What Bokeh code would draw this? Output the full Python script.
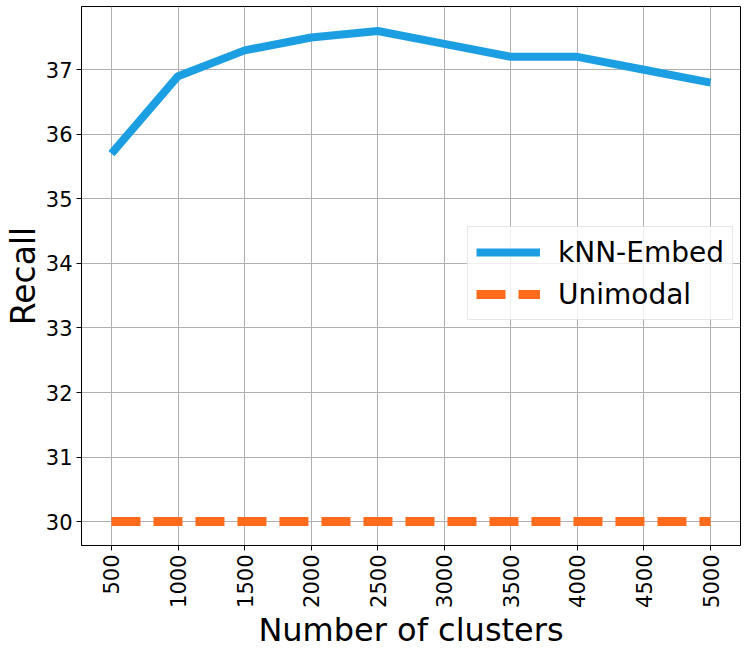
import math
from bokeh.plotting import figure
from bokeh.models import Range1d, FixedTicker, Legend, LegendItem
from bokeh.embed import file_html
from bokeh.resources import INLINE

clusters = [500, 1000, 1500, 2000, 2500, 3000, 3500, 4000, 4500, 5000]
knn_embed = [35.7, 36.9, 37.3, 37.5, 37.6, 37.4, 37.2, 37.2, 37.0, 36.8]
unimodal = [30.0] * len(clusters)
y_ticks = [30, 31, 32, 33, 34, 35, 36, 37]

FONT = "DejaVu Sans"

p = figure(width=746, height=651, output_backend="svg", toolbar_location=None,
           x_range=Range1d(275, 5225), y_range=Range1d(29.63, 37.98),
           min_border_left=60, min_border_right=6, min_border_top=6, min_border_bottom=90)

p.outline_line_color = "black"
p.outline_line_width = 1
p.background_fill_color = "white"
p.border_fill_color = "white"

for ax in (p.xaxis[0], p.yaxis[0]):
    ax.axis_line_color = "black"
    ax.major_tick_out = 5
    ax.major_tick_in = 0
    ax.minor_tick_line_color = None
    ax.major_label_text_font = FONT
    ax.major_label_text_font_size = "21px"
    ax.major_label_text_color = "black"
    ax.major_label_standoff = 4
    ax.axis_label_text_font = FONT
    ax.axis_label_text_font_style = "normal"
    ax.axis_label_text_color = "black"
    ax.axis_label_standoff = 0

p.xaxis.axis_label_text_font_size = "32px"
p.yaxis.axis_label_text_font_size = "33px"
p.xaxis.ticker = FixedTicker(ticks=clusters)
p.yaxis.ticker = FixedTicker(ticks=y_ticks)
p.xaxis.major_label_orientation = math.pi / 2
p.xaxis.axis_label = "Number of clusters"
p.yaxis.axis_label = "Recall"

p.xgrid.grid_line_color = "#b0b0b0"
p.ygrid.grid_line_color = "#b0b0b0"
p.xgrid.grid_line_width = 1
p.ygrid.grid_line_width = 1

r1 = p.line(clusters, knn_embed, line_color="#1c9fe2", line_width=8, line_join="round")
r2 = p.line(clusters, unimodal, line_color="#ff6b1c", line_width=9, line_dash="29 13")

legend = Legend(items=[LegendItem(label="kNN-Embed", renderers=[r1]),
                       LegendItem(label="Unimodal", renderers=[r2])],
                location=(386, 225))
legend.label_text_font = FONT
legend.label_text_font_size = "28px"
legend.label_text_color = "black"
legend.glyph_width = 64
legend.glyph_height = 34
legend.label_standoff = 18
legend.spacing = 8
legend.padding = 8
legend.margin = 0
legend.border_line_color = "#d0d0d0"
legend.border_line_width = 1
legend.background_fill_alpha = 0.8
p.add_layout(legend, "center")

open("out.html", "w").write(file_html(p, INLINE))
